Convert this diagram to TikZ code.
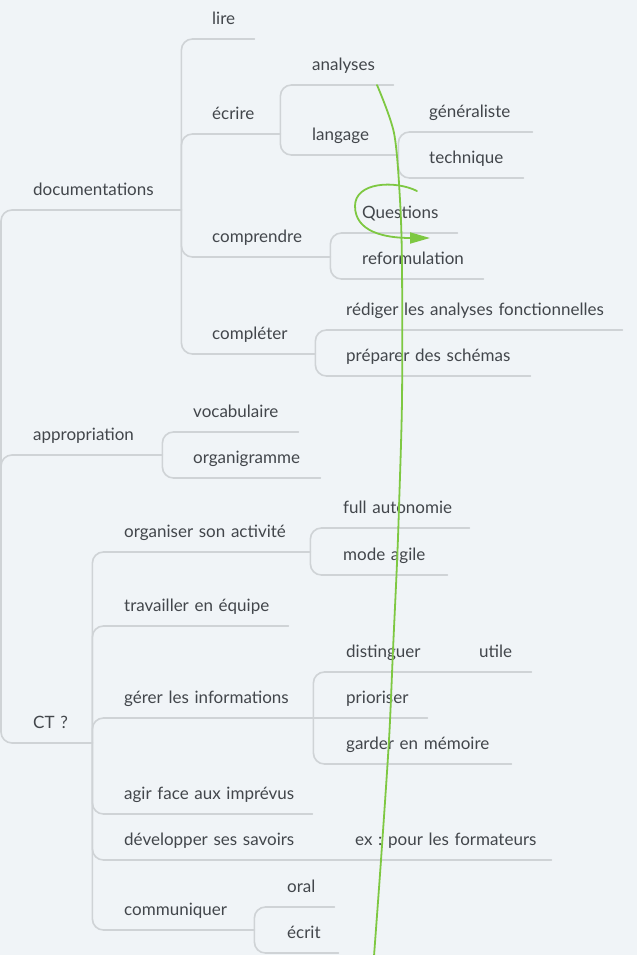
\documentclass[tikz,border=0pt]{standalone}
\usepackage{fontspec}
\setmainfont{Lato}
\frenchspacing
\usetikzlibrary{calc, arrows.meta}
\definecolor{mapbg}{RGB}{240,244,247}
\definecolor{mapline}{RGB}{207,211,214}
\definecolor{maptext}{RGB}{66,70,75}
\definecolor{markgreen}{RGB}{126,200,66}
\tikzset{
    topic/.style={anchor=south west, inner xsep=0pt, inner ysep=0pt, text width=#1pt, align=left,
        text height=12pt, text depth=14pt, text=maptext, font=\fontsize{17}{20}\selectfont,
        execute at begin node={\hspace*{19pt}}},
    branch/.style={draw=mapline, line width=1.6pt, line cap=round, rounded corners=11pt},
    elbow/.style={to path={-- (\tikztostart |- \tikztotarget) -- (\tikztotarget)}},
    greenmark/.style={draw=markgreen, line width=1.8pt, line cap=round}
}

\begin{document}
\begin{tikzpicture}[x=1pt, y=-1pt]
            \fill[mapbg] (0,0) rectangle (637,955);
            \useasboundingbox (0,0) rectangle (637,955);

            \coordinate (root) at (1,497);

            % main branches
            \node[topic=167] (doc) at (14,210) {documentations};
            \node[topic=148] (appr) at (14,455) {appropriation};
            \node[topic=78] (ct) at (14,743) {CT ?};

            % documentations
            \node[topic=61] (lire) at (193,39) {lire};
            \node[topic=87] (ecrire) at (193,134) {écrire};
            \node[topic=137] (compr) at (193,257) {comprendre};
            \node[topic=122] (compl) at (193,354) {compléter};
            \node[topic=100] (analyses) at (293,85) {analyses};
            \node[topic=105] (langage) at (293,155) {langage};
            \node[topic=122] (general) at (410,132) {généraliste};
            \node[topic=113] (technique) at (410,178) {technique};
            \node[topic=114] (questions) at (343,233) {Questions};
            \node[topic=140] (reform) at (343,279) {reformulation};
            \node[topic=295] (rediger) at (327,330) {rédiger les analyses fonctionnelles};
            \node[topic=203] (preparer) at (327,376) {préparer des schémas};

            % appropriation
            \node[topic=124] (vocab) at (174,432) {vocabulaire};
            \node[topic=146] (organi) at (174,478) {organigramme};

            % CT ?
            \node[topic=205] (organiser) at (105,552) {organiser son activité};
            \node[topic=183] (travailler) at (105,626) {travailler en équipe};
            \node[topic=208] (gerer) at (105,718) {gérer les informations};
            \node[topic=207] (agir) at (105,814) {agir face aux imprévus};
            \node[topic=216] (develop) at (105,860) {développer ses savoirs};
            \node[topic=149] (communiq) at (105,930) {communiquer};
            \node[topic=145] (fullauto) at (324,528) {full autonomie};
            \node[topic=123] (agile) at (324,575) {mode agile};
            \node[topic=120] (disting) at (327,672) {distinguer};
            \node[topic=71] (utile) at (460,672) {utile};
            \node[topic=100] (prioriser) at (327,718) {prioriser};
            \node[topic=184] (garder) at (327,764) {garder en mémoire};
            \node[topic=215] (ex) at (336,860) {ex : pour les formateurs};
            \node[topic=66] (oral) at (268,907) {oral};
            \node[topic=70] (ecrit) at (268,953) {écrit};

            % underlines
            \foreach \n in {doc,appr,ct,lire,ecrire,compr,compl,analyses,langage,general,technique,
                questions,reform,rediger,preparer,vocab,organi,organiser,travailler,gerer,agir,
                develop,communiq,fullauto,agile,disting,utile,prioriser,garder,ex,oral,ecrit}
                \draw[branch] (\n.south west) -- (\n.south east);

            % connectors
            \foreach \c in {doc,appr,ct}
                \draw[branch] (root) to[elbow] (\c.south west);
            \foreach \c in {lire,ecrire,compr,compl}
                \draw[branch] (doc.south east) to[elbow] (\c.south west);
            \foreach \c in {analyses,langage}
                \draw[branch] (ecrire.south east) to[elbow] (\c.south west);
            \foreach \c in {general,technique}
                \draw[branch] (langage.south east) to[elbow] (\c.south west);
            \foreach \c in {questions,reform}
                \draw[branch] (compr.south east) to[elbow] (\c.south west);
            \foreach \c in {rediger,preparer}
                \draw[branch] (compl.south east) to[elbow] (\c.south west);
            \foreach \c in {vocab,organi}
                \draw[branch] (appr.south east) to[elbow] (\c.south west);
            \foreach \c in {organiser,travailler,gerer,agir,develop,communiq}
                \draw[branch] (ct.south east) to[elbow] (\c.south west);
            \foreach \c in {fullauto,agile}
                \draw[branch] (organiser.south east) to[elbow] (\c.south west);
            \foreach \c in {disting,garder}
                \draw[branch] (gerer.south east) to[elbow] (\c.south west);
            \foreach \c in {oral,ecrit}
                \draw[branch] (communiq.south east) to[elbow] (\c.south west);
            \draw[branch] (gerer.south east) -- (prioriser.south west);
            \draw[branch] (disting.south east) -- (utile.south west);
            \draw[branch] (develop.south east) -- (ex.south west);

            % hand drawn marks
            \draw[greenmark] plot[smooth] coordinates {(377,85) (394,133) (400,200) (402,267) (402,400)
                (399,507) (397,563) (393,650) (389,740) (381,860) (374,956)};
            \draw[greenmark, -{Triangle[length=20pt, width=11pt]}] (417,191) .. controls (395,180) and (355,182)
                .. (355,206) .. controls (355,232) and (385,238) .. (430,238);

\end{tikzpicture}
\end{document}
